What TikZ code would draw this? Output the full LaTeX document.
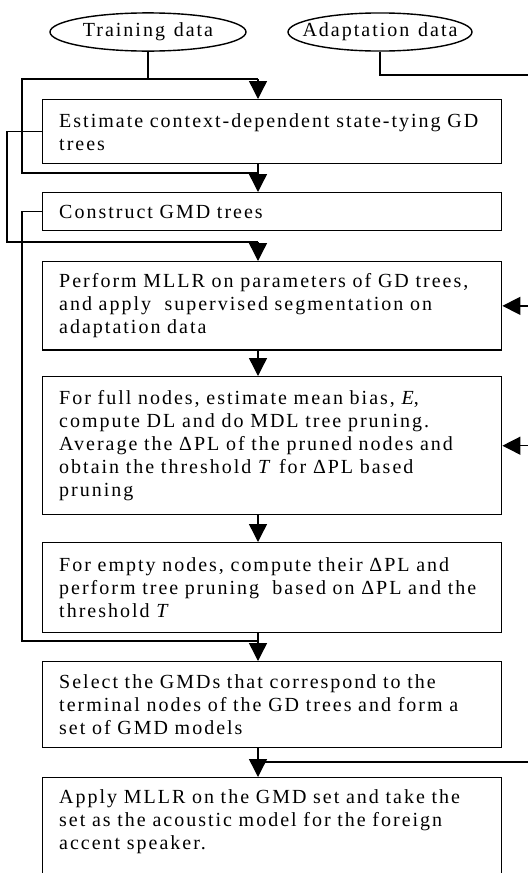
\documentclass[tikz,border=0pt]{standalone}
\usepackage{fontspec}
\setmainfont{Liberation Serif}[LetterSpace=10, WordSpace=1.25]
\usetikzlibrary{arrows.meta,positioning,shapes.geometric}

\begin{document}
\begin{tikzpicture}[
x=0.5pt, y=-0.5pt,
every node/.style={font=\fontsize{10}{11.5}\selectfont},
process/.style={rectangle, draw, line width=0.7pt, anchor=north west, text width=213pt, inner xsep=8.25pt, inner ysep=6pt, align=left},
data_style/.style={ellipse, draw, line width=0.7pt, inner xsep=0pt, inner ysep=2.2pt, minimum height=17.5pt},
line/.style={line width=0.7pt},
arrow/.style={line, -{Triangle[length=9pt,width=9pt]}}
]
\useasboundingbox (0,0) rectangle (528,873);

% Inputs

\node[data_style, minimum width=98pt] (train) at (148,32) {\makebox[0pt]{Training data}};

\node[data_style, minimum width=92pt] (adapt) at (380,32) {\makebox[0pt]{Adaptation data}};

% Step 1: GD trees

\node[process, minimum height=32pt] (gd) at (42,99) {Estimate context-dependent state-tying GD\\ trees};

% Step 2: GMD trees

\node[process, minimum height=19pt] (gmd) at (42,192) {Construct GMD trees};

% Step 3: MLLR and segmentation

\node[process, minimum height=42.5pt] (mllr) at (42,261) {Perform MLLR on parameters of GD trees,\\ and apply \ supervised segmentation on\\ adaptation data};

% Step 4: full nodes

\node[process, minimum height=69pt] (full) at (42,376) {For full nodes, estimate mean bias, \textit{E},\\ compute DL and do MDL tree pruning.\\ Average the ΔPL of the pruned nodes and\\ obtain the threshold \textit{T} for ΔPL based\\ pruning};

% Step 5: empty nodes

\node[process, minimum height=45pt] (empty) at (42,542) {For empty nodes, compute their ΔPL and\\ perform tree pruning \ based on ΔPL and the\\ threshold \textit{T}};

% Step 6: select GMDs

\node[process, minimum height=43pt] (select) at (42,661) {Select the GMDs that correspond to the\\ terminal nodes of the GD trees and form a\\ set of GMD models};

% Step 7: final model (runs off the bottom)

\node[process, text depth=60pt] (final) at (42,777) {Apply MLLR on the GMD set and take the\\ set as the acoustic model for the foreign\\ accent speaker.};

% Junctions

\coordinate (j1) at (258,79);
\coordinate (j2) at (258,173);
\coordinate (l1) at (7,242);
\coordinate (j3) at (258,242);
\coordinate (l2) at (22,641);
\coordinate (j6) at (258,641);
\coordinate (j7) at (258,762);
\coordinate (r1) at (540,75);
\coordinate (r2) at (540,762);

% Training data paths

\draw[line] (train.south) |- (j1);
\draw[arrow] (j1) -- (gd.north -| j1);
\draw[line] (train.south |- j1) -| (22,173) -- (j2);
\draw[line] (gd.south -| j2) -- (j2);
\draw[arrow] (j2) -- (gmd.north -| j2);

% GD trees to MLLR

\draw[line] (gd.west) -| (l1) -- (j3);
\draw[arrow] (j3) -- (mllr.north -| j3);
\draw[arrow] (mllr.south -| j3) -- (full.north -| j3);
\draw[arrow] (full.south -| j3) -- (empty.north -| j3);

% GMD trees to selection

\draw[line] (gmd.west) -| (l2) -- (j6);
\draw[line] (empty.south -| j6) -- (j6);
\draw[arrow] (j6) -- (select.north -| j6);
\draw[arrow] (select.south -| j7) -- (final.north -| j7);

% Adaptation data paths

\draw[line] (adapt.south) |- (r1) -- (r2) -- (j7);
\draw[arrow] (mllr.east -| r1) -- (mllr.east);
\draw[arrow] (full.east -| r1) -- (full.east);

\end{tikzpicture}
\end{document}
